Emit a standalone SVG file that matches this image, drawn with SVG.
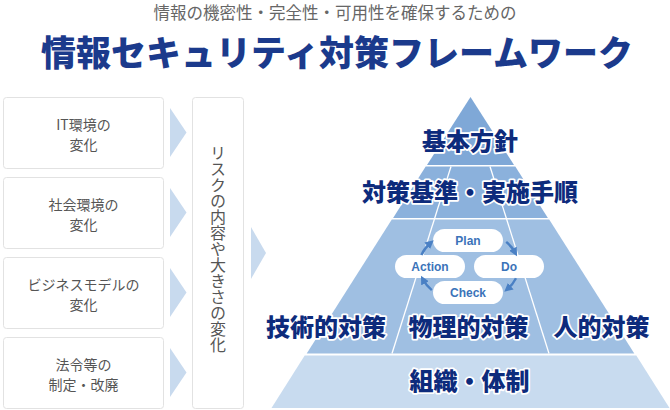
<svg xmlns="http://www.w3.org/2000/svg" width="670" height="410" viewBox="0 0 670 410">
<defs>
<style>
.jp{font-family:"Noto Sans CJK JP","Noto Sans",sans-serif;}
.sub{font-size:16.5px;fill:#666;text-anchor:middle;}
.title{font-size:35px;font-weight:900;fill:#1b3a8c;text-anchor:middle;}
.box{fill:#fff;stroke:#e2e2e2;stroke-width:1;}
.btxt{font-size:14px;fill:#555;text-anchor:middle;}
.tri{fill:#c8daee;}
.pt{font-size:24px;font-weight:900;fill:#0d2b7c;text-anchor:middle;stroke:#fff;stroke-width:3.5px;stroke-linejoin:round;paint-order:stroke;}
.div{stroke:#fff;stroke-width:1.3;fill:none;}
.pill{fill:#fff;}
.ptxt{font-family:"Liberation Sans",Arial,sans-serif;font-size:12px;font-weight:700;fill:#3b73b9;text-anchor:middle;}
.arc{fill:none;stroke:#4a80c4;stroke-width:2.4;marker-end:url(#ah);}
</style>
<marker id="ah" viewBox="0 0 10 10" refX="5" refY="5" markerWidth="3.6" markerHeight="3.6" orient="auto" markerUnits="strokeWidth">
<path d="M0,0 L10,5 L0,10 z" fill="#4a80c4"/>
</marker>
</defs>
<rect width="670" height="410" fill="#fff"/>
<g id="header">
<text class="jp sub" x="335" y="19">情報の機密性・完全性・可用性を確保するための</text>
<text class="jp title" x="337" y="66">情報セキュリティ対策フレームワーク</text>
</g>
<g id="change-it">
<rect class="box" x="3.5" y="97.5" width="160" height="71" rx="3"/>
<text class="jp btxt" x="83.5" y="129.5">IT環境の</text>
<text class="jp btxt" x="83.5" y="150">変化</text>
</g>
<g id="change-society">
<rect class="box" x="3.5" y="177.5" width="160" height="71" rx="3"/>
<text class="jp btxt" x="83.5" y="209.5">社会環境の</text>
<text class="jp btxt" x="83.5" y="230">変化</text>
</g>
<g id="change-business">
<rect class="box" x="3.5" y="257.5" width="160" height="71" rx="3"/>
<text class="jp btxt" x="83.5" y="289.5">ビジネスモデルの</text>
<text class="jp btxt" x="83.5" y="310">変化</text>
</g>
<g id="change-law">
<rect class="box" x="3.5" y="337.5" width="160" height="71" rx="3"/>
<text class="jp btxt" x="83.5" y="369.5">法令等の</text>
<text class="jp btxt" x="83.5" y="390">制定・改廃</text>
</g>
<g id="risk-change">
<rect class="box" x="192.5" y="97.5" width="51" height="311" rx="3"/>
<text class="jp" x="218" y="249" style="writing-mode:vertical-rl;font-size:16px;fill:#555;text-anchor:middle;">リスクの内容や大きさの変化</text>
</g>
<g id="connectors">
<polygon class="tri" points="170,108 186.5,132.5 170,157"/>
<polygon class="tri" points="170,188 186.5,212.5 170,237"/>
<polygon class="tri" points="170,268 186.5,292.5 170,317"/>
<polygon class="tri" points="170,348 186.5,372.5 170,397"/>
<polygon class="tri" points="251,227 266,253 251,279"/>
</g>
<g id="pyramid">
<polygon fill="#7fa8d7" points="470.5,97 427,165 514,165"/>
<polygon fill="#8bb1dc" points="425.7,166.5 515.3,166.5 547.9,218 393.1,218"/>
<polygon fill="#9fbfe2" points="391.8,219.5 549.2,219.5 634.3,353.5 306.7,353.5"/>
<polygon fill="#c8dbef" points="304.7,355.5 636.3,355.5 669.5,408 271.5,408"/>
<line class="div" x1="451" y1="166.5" x2="392" y2="353.5"/>
<line class="div" x1="490" y1="166.5" x2="549" y2="353.5"/>
</g>
<g id="level-policy">
<text class="jp pt" x="470" y="150">基本方針</text>
</g>
<g id="level-standards">
<text class="jp pt" x="470" y="201">対策基準・実施手順</text>
</g>
<g id="pdca">
<rect class="pill" x="433" y="229" width="70" height="23" rx="11.5"/>
<rect class="pill" x="474" y="255" width="70" height="23" rx="11.5"/>
<rect class="pill" x="395" y="255" width="70" height="23" rx="11.5"/>
<rect class="pill" x="433" y="281" width="70" height="23" rx="11.5"/>
<text class="ptxt" x="468" y="245">Plan</text>
<text class="ptxt" x="509" y="271">Do</text>
<text class="ptxt" x="430" y="271">Action</text>
<text class="ptxt" x="468" y="297">Check</text>
<path class="arc" d="M421.4,254.9 A50,36 0 0 1 430.5,243"/>
<path class="arc" d="M506.2,241.9 A50,36 0 0 1 515,252.5"/>
<path class="arc" d="M516,278.3 A50,36 0 0 1 507.5,289"/>
<path class="arc" d="M431.8,290.1 A50,36 0 0 1 423,279.5"/>
</g>
<g id="level-measures">
<text class="jp pt" x="326" y="336">技術的対策</text>
<text class="jp pt" x="468.5" y="336">物理的対策</text>
<text class="jp pt" x="601.5" y="336">人的対策</text>
</g>
<g id="level-organization">
<text class="jp pt" x="469.5" y="390">組織・体制</text>
</g>
</svg>
